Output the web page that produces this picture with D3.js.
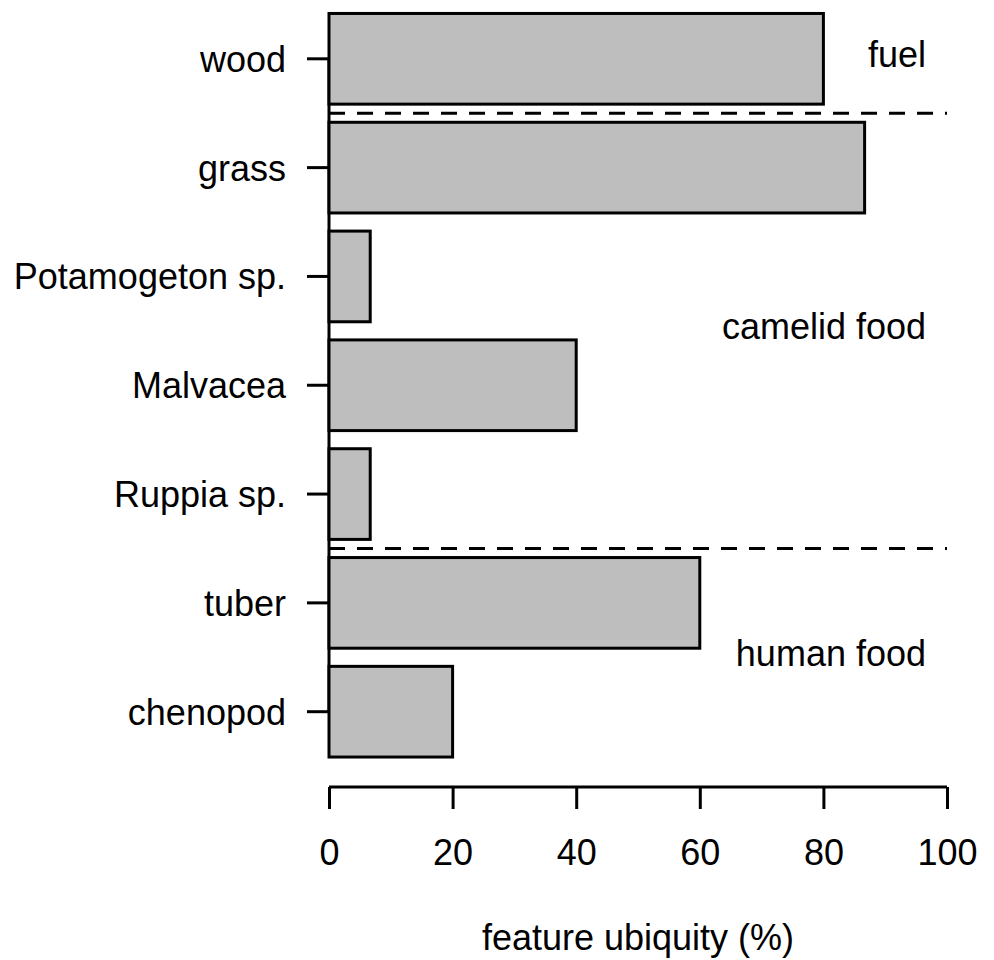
<!DOCTYPE html>
<html>
<head>
<meta charset="utf-8">
<script src="https://cdn.jsdelivr.net/npm/d3@7/dist/d3.min.js"></script>
<style>
  html, body { margin: 0; padding: 0; background: #fff; }
  svg { display: block; }
  text { font-family: "Liberation Sans", Arial, Helvetica, sans-serif; fill: #000; }
</style>
</head>
<body>
<script>
// ---- data ----
const categories = ["wood", "grass", "Potamogeton sp.", "Malvacea", "Ruppia sp.", "tuber", "chenopod"];
const ubiquity   = [80, 86.67, 6.67, 40, 6.67, 60, 20];
const xTicks     = [0, 20, 40, 60, 80, 100];
const groupLabels = ["fuel", "camelid food", "human food"];
const groupAnchor = ["wood", "Potamogeton sp.", "tuber"];   // row near which each group label sits
const groupOffset = [-0.04, 0.46, 0.464];                     // in rows, relative to anchor row centre
const separatorsAfter = ["wood", "Ruppia sp."];              // dashed line drawn below these rows
const xTitle = "feature ubiquity (%)";

const W = 994, H = 960;
const FS = 36;

const svg = d3.select("body").append("svg").attr("width", W).attr("height", H);

const x = d3.scaleLinear().domain([0, 100]).range([329, 947]);
const y = d3.scaleBand().domain(categories).range([4.4, 766.1]).paddingInner(1/6).paddingOuter(1/12);

const data = categories.map((c, i) => ({ c, v: ubiquity[i] }));

// y axis line (from first to last tick) and ticks
const yc = c => y(c) + y.bandwidth() / 2;
svg.append("line")
  .attr("x1", x(0)).attr("x2", x(0))
  .attr("y1", yc(categories[0])).attr("y2", yc(categories[categories.length - 1]))
  .attr("stroke", "#000").attr("stroke-width", 3);

// bars
svg.append("g").selectAll("rect").data(data).join("rect")
  .attr("x", x(0))
  .attr("y", d => y(d.c))
  .attr("width", d => x(d.v) - x(0))
  .attr("height", y.bandwidth())
  .attr("fill", "#bebebe")
  .attr("stroke", "#000")
  .attr("stroke-width", 3);

// y ticks + labels
const gy = svg.append("g");
gy.selectAll("line").data(categories).join("line")
  .attr("x1", x(0) - 22).attr("x2", x(0))
  .attr("y1", d => yc(d)).attr("y2", d => yc(d))
  .attr("stroke", "#000").attr("stroke-width", 3);
gy.selectAll("text").data(categories).join("text")
  .attr("x", x(0) - 43)
  .attr("y", d => yc(d))
  .attr("dy", "0.36em")
  .attr("text-anchor", "end")
  .attr("font-size", FS)
  .text(d => d);

// dashed separators
const step = y.step();
svg.append("g").selectAll("line").data(separatorsAfter).join("line")
  .attr("x1", x(0)).attr("x2", x(100))
  .attr("y1", d => y(d) + y.bandwidth() + (step - y.bandwidth()) / 2)
  .attr("y2", d => y(d) + y.bandwidth() + (step - y.bandwidth()) / 2)
  .attr("stroke", "#000").attr("stroke-width", 3)
  .attr("stroke-dasharray", "16,12");

// group labels
svg.append("g").selectAll("text").data(groupLabels).join("text")
  .attr("x", 926)
  .attr("y", (d, i) => yc(groupAnchor[i]) + groupOffset[i] * step)
  .attr("dy", "0.36em")
  .attr("text-anchor", "end")
  .attr("font-size", FS)
  .text(d => d);

// x axis
const axisY = 787;
const xAxis = d3.axisBottom(x).tickValues(xTicks).tickSize(22).tickPadding(30).tickFormat(d3.format("d"));
const gx = svg.append("g").attr("transform", `translate(0,${axisY})`).call(xAxis);
gx.select(".domain").attr("stroke", "#000").attr("stroke-width", 3).attr("d", `M${x(0)},0H${x(100)}`);
gx.selectAll(".tick line").attr("stroke", "#000").attr("stroke-width", 3);
gx.selectAll(".tick text").attr("font-size", FS).attr("font-family", "Liberation Sans, Arial, sans-serif").attr("fill", "#000");

// x title
svg.append("text")
  .attr("x", (x(0) + x(100)) / 2)
  .attr("y", 950)
  .attr("text-anchor", "middle")
  .attr("font-size", FS)
  .text(xTitle);
</script>
</body>
</html>
